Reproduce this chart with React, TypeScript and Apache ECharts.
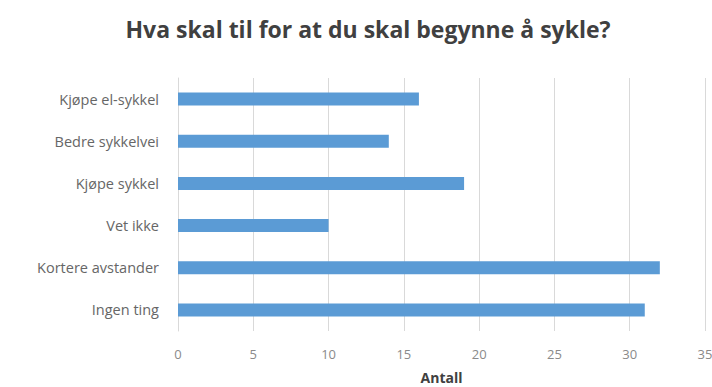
import React, { useEffect, useRef } from "react";
import * as echarts from "echarts";

const TITLE = "Hva skal til for at du skal begynne å sykle?";
const categories = [
  "Kjøpe el-sykkel",
  "Bedre sykkelvei",
  "Kjøpe sykkel",
  "Vet ikke",
  "Kortere avstander",
  "Ingen ting",
];
const counts = [16, 14, 19, 10, 32, 31];
const xAxisName = "Antall";

const FONT = "'Open Sans', 'Noto Sans', sans-serif";

export default function App() {
  const ref = useRef<HTMLDivElement>(null);

  useEffect(() => {
    if (!ref.current) return;
    const chart = echarts.init(ref.current, null, { renderer: "svg" });
    chart.setOption({
      animation: false,
      backgroundColor: "#ffffff",
      title: {
        text: TITLE,
        left: 363,
        textAlign: "center",
        top: 12,
        textStyle: {
          fontFamily: FONT,
          fontSize: 23,
          fontWeight: "bold",
          color: "#404040",
        },
      },
      grid: {
        left: 178,
        right: 7,
        top: 78,
        bottom: 56,
        containLabel: false,
        outerBoundsMode: "none",
      },
      xAxis: {
        type: "value",
        min: 0,
        max: 35,
        interval: 5,
        name: xAxisName,
        nameLocation: "middle",
        nameGap: 39,
        nameTextStyle: {
          fontFamily: FONT,
          fontSize: 14,
          fontWeight: "bold",
          color: "#404040",
        },
        axisLine: { show: false },
        axisTick: { show: false },
        axisLabel: {
          margin: 16,
          fontFamily: FONT,
          fontSize: 13,
          color: "#8a8a8a",
        },
        splitLine: { show: true, lineStyle: { color: "#d9d9d9", width: 1 } },
      },
      yAxis: {
        type: "category",
        data: categories,
        inverse: true,
        axisLine: { show: true, lineStyle: { color: "#d9d9d9" } },
        axisTick: { show: false },
        axisLabel: {
          margin: 19,
          fontFamily: FONT,
          fontSize: 14.5,
          color: "#666666",
        },
      },
      series: [
        {
          type: "bar",
          data: counts,
          barWidth: 13,
          itemStyle: { color: "#5b9bd5" },
        },
      ],
    });
    return () => chart.dispose();
  }, []);

  return (
    <div
      ref={ref}
      style={{ position: "fixed", left: 0, top: 0, width: 712, height: 387 }}
    />
  );
}
